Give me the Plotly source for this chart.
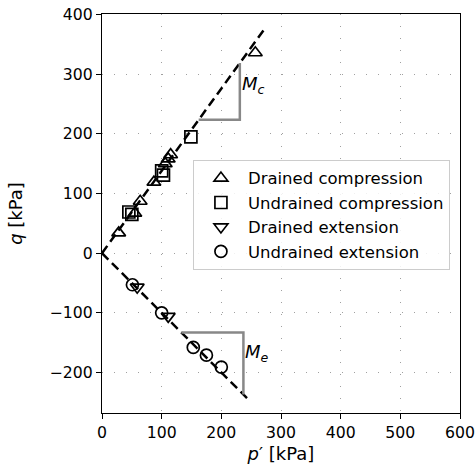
import plotly.graph_objects as go

# ---- data ----
dc_p = [28, 55, 64, 87, 106, 111, 115, 257]
dc_q = [34, 67, 87, 119, 150, 158, 165, 336]
uc_p = [45, 50, 100, 103, 149]
uc_q = [69, 65, 138, 131, 195]
de_p = [59, 111]
de_q = [-57, -106]
ue_p = [51, 100, 153, 175, 200]
ue_q = [-53, -100, -158, -171, -191]

Mc = 1.38
Me = 1.0
line_c_p = [0, 274]
line_e_p = [0, 248]
tri_c_p = [162, 231]
tri_e_p = [133, 237]

x_range = [0, 600]
y_range = [-268, 401]
x_ticks = [0, 100, 200, 300, 400, 500, 600]
y_ticks = [-200, -100, 0, 100, 200, 300, 400]

FONT = "DejaVu Sans"

fig = go.Figure()

# failure lines
fig.add_trace(go.Scatter(x=line_c_p, y=[Mc * p for p in line_c_p], mode="lines",
                         line=dict(color="black", width=2.5, dash="9px,5px"),
                         showlegend=False, hoverinfo="skip"))
fig.add_trace(go.Scatter(x=line_e_p, y=[-Me * p for p in line_e_p], mode="lines",
                         line=dict(color="black", width=2.5, dash="9px,5px"),
                         showlegend=False, hoverinfo="skip"))

# slope triangles
fig.add_trace(go.Scatter(x=[tri_c_p[0], tri_c_p[1], tri_c_p[1]],
                         y=[Mc * tri_c_p[0], Mc * tri_c_p[0], Mc * tri_c_p[1]],
                         mode="lines", line=dict(color="#888888", width=2.5),
                         showlegend=False, hoverinfo="skip"))
fig.add_trace(go.Scatter(x=[tri_e_p[0], tri_e_p[1], tri_e_p[1]],
                         y=[-Me * tri_e_p[0], -Me * tri_e_p[0], -Me * tri_e_p[1]],
                         mode="lines", line=dict(color="#888888", width=2.5),
                         showlegend=False, hoverinfo="skip"))

mk = dict(color="black", size=12, line=dict(color="black", width=1.7))
fig.add_trace(go.Scatter(x=dc_p, y=dc_q, mode="markers", name="Drained compression",
                         marker=dict(symbol="triangle-up-open", **mk)))
fig.add_trace(go.Scatter(x=uc_p, y=uc_q, mode="markers", name="Undrained compression",
                         marker=dict(symbol="square-open", **mk)))
fig.add_trace(go.Scatter(x=de_p, y=de_q, mode="markers", name="Drained extension",
                         marker=dict(symbol="triangle-down-open", **mk)))
fig.add_trace(go.Scatter(x=ue_p, y=ue_q, mode="markers", name="Undrained extension",
                         marker=dict(symbol="circle-open", **mk)))

fig.add_annotation(x=tri_c_p[1], y=Mc * (tri_c_p[0] + tri_c_p[1]) / 2 + 10,
                   text="<i>M</i><sub><i>c</i></sub>", showarrow=False,
                   xanchor="left", xshift=0, font=dict(size=18, color="black", family=FONT))
fig.add_annotation(x=tri_e_p[1], y=-Me * (tri_e_p[0] + tri_e_p[1]) / 2 + 18,
                   text="<i>M</i><sub><i>e</i></sub>", showarrow=False,
                   xanchor="left", xshift=0, font=dict(size=18, color="black", family=FONT))

axis_common = dict(showline=True, linecolor="black", linewidth=1.3, mirror=True,
                   ticks="outside", ticklen=5, tickwidth=1.2, tickcolor="black",
                   showgrid=True, gridcolor="#a0a0a0", gridwidth=1.3, griddash="1px,11px",
                   zeroline=False, automargin=False, ticklabeloverflow="allow",
                   tickfont=dict(size=15.7, color="black", family=FONT))

fig.update_xaxes(range=x_range, tickvals=x_ticks,
                 title=dict(text="<i>p</i>′ [kPa]", font=dict(size=18, color="black", family=FONT),
                            standoff=6), **axis_common)
fig.update_yaxes(range=y_range, tickvals=y_ticks,
                 ticktext=[str(v).replace("-", "−") for v in y_ticks],
                 title=dict(text="<i>q</i> [kPa]", font=dict(size=18, color="black", family=FONT),
                            standoff=22), **axis_common)

fig.update_layout(
    width=475, height=473,
    margin=dict(l=102, r=15, t=14, b=60),
    plot_bgcolor="white", paper_bgcolor="white",
    font=dict(family=FONT, color="black"),
    legend=dict(x=0.254, y=0.6345, xanchor="left", yanchor="top",
                itemwidth=44,
                bgcolor="rgba(255,255,255,0.85)", bordercolor="#cccccc", borderwidth=1,
                font=dict(size=16.5, color="black", family=FONT)),
)

# remove the page's default body margin so the figure fills the window exactly
fig.write_html("out.html", config={"displayModeBar": False},
               post_script="document.body.style.margin='0';")
